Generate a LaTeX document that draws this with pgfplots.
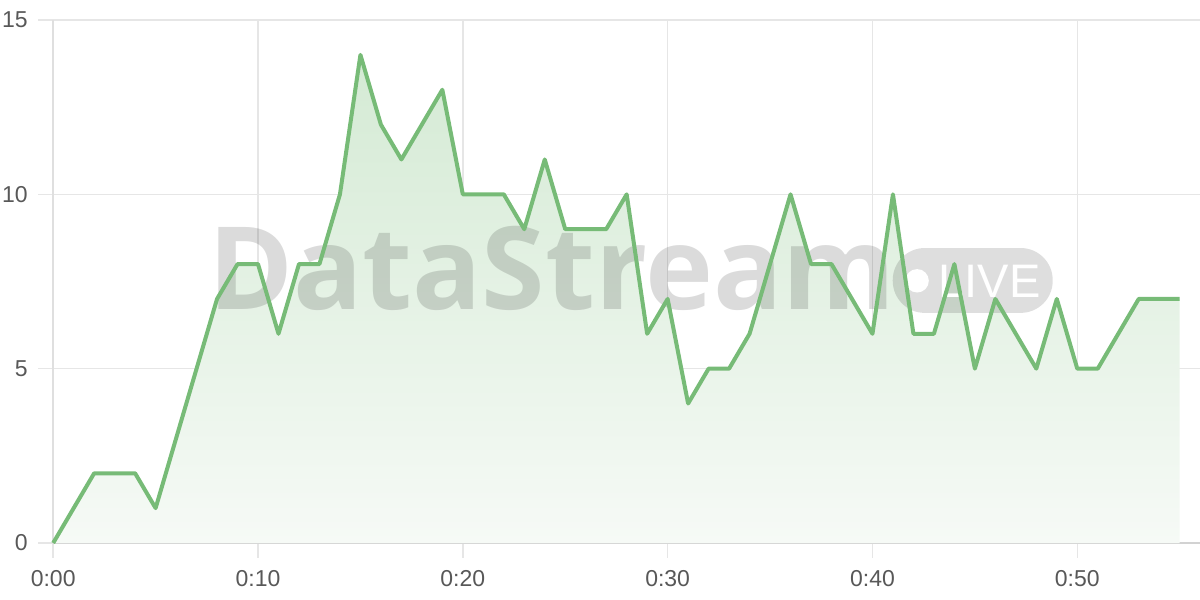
\documentclass[border=0pt]{standalone}
\usepackage{fontspec}
\setmainfont{Liberation Sans}
\newfontfamily\markfont{Open Sans}
\usepackage{pgfplots}
\usepackage{pgfplotstable}
\pgfplotsset{compat=1.18}

\definecolor{linegreen}{RGB}{119,187,119}
\definecolor{gridgray}{RGB}{230,230,230}
\definecolor{axisgray}{RGB}{210,210,210}
\definecolor{labelgray}{RGB}{88,88,88}
\definecolor{filltop}{RGB}{212,234,212}
\definecolor{fillbot}{RGB}{246,250,246}

% minute, count
\pgfplotstableread{
t v
0 0
1 1
2 2
3 2
4 2
5 1
6 3
7 5
8 7
9 8
10 8
11 6
12 8
13 8
14 10
15 14
16 12
17 11
18 12
19 13
20 10
21 10
22 10
23 9
24 11
25 9
26 9
27 9
28 10
29 6
30 7
31 4
32 5
33 5
34 6
35 8
36 10
37 8
38 8
39 7
40 6
41 10
42 6
43 6
44 8
45 5
46 7
47 6
48 5
49 7
50 5
51 5
52 6
53 7
54 7
55 7
}\counts

\begin{document}
\begin{tikzpicture}
\begin{axis}[
    scale only axis,
    width=1147bp, height=523bp,
    xmin=0, xmax=56, ymin=0, ymax=15,
    axis x line=bottom, axis y line=left,
    x axis line style={-, draw=axisgray, line width=2bp},
    y axis line style={-, draw=axisgray!70!white, line width=1.5bp},
    xtick={0,10,...,50},
    xticklabels={0:00,0:10,0:20,0:30,0:40,0:50},
    ytick={0,5,10,15},
    grid=major,
    major grid style={draw=gridgray, line width=1.5bp},
    tick align=outside,
    major tick length=15bp,
    tick style={draw=gridgray, line width=1.5bp},
    tick label style={font=\fontsize{23bp}{27bp}\selectfont, text=labelgray},
    xticklabel style={yshift=-9bp},
    yticklabel style={xshift=-7bp},
    /pgf/number format/assume math mode=true,
    clip=false,
]
\coordinate (bl) at (rel axis cs:0,0);

\addplot[draw=none, top color=filltop, bottom color=fillbot]
    table[x=t, y=v] {\counts} \closedcycle;

% watermark
\node[anchor=base west, inner sep=0, text=black, opacity=0.14,
      font=\fontsize{115bp}{115bp}\markfont\bfseries]
    at (axis cs:7.55,6.7) {DataStream};
\fill[black, opacity=0.13, rounded corners=32bp]
    (axis cs:40.99,6.6) rectangle (axis cs:48.8,8.46);
\fill[white] (axis cs:42.18,7.52) circle[radius=11.7bp];
\node[anchor=base west, inner sep=0, text=white,
      font=\fontsize{47bp}{47bp}\selectfont]
    at (axis cs:43.22,7.05) {LIVE};

\addplot[draw=linegreen, line width=4bp, line join=round, mark=none]
    table[x=t, y=v] {\counts};
\end{axis}
\pgfresetboundingbox
\path[use as bounding box] (bl) ++(-53.2bp,-57bp) rectangle ++(1200bp,600bp);
\end{tikzpicture}
\end{document}
